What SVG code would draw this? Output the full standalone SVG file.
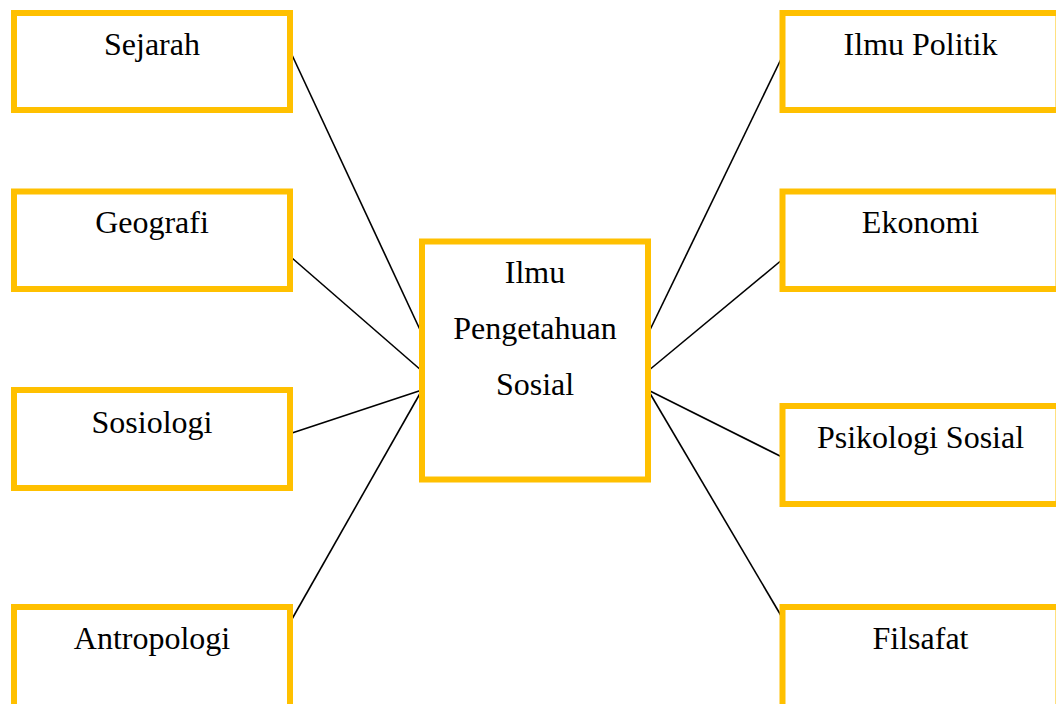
<svg xmlns="http://www.w3.org/2000/svg" width="1056" height="704" viewBox="0 0 1056 704">
<style>
.box{fill:#fff;stroke:#FFC000;stroke-width:6}
.lbl{font-family:"Liberation Serif","Times New Roman",serif;font-size:32px;fill:#000;text-anchor:middle}
.con{stroke:#000;stroke-width:1.6;fill:none}
</style>
<rect width="1056" height="704" fill="#fff"/>
<g id="connectors">
<line class="con" x1="292" y1="55" x2="422" y2="334"/>
<line class="con" x1="292" y1="258" x2="422" y2="371"/>
<line class="con" x1="292" y1="433" x2="422" y2="390"/>
<line class="con" x1="292" y1="619" x2="422" y2="390"/>
<line class="con" x1="783" y1="55" x2="648" y2="334"/>
<line class="con" x1="783" y1="259" x2="648" y2="371"/>
<line class="con" x1="782" y1="457" x2="648" y2="390"/>
<line class="con" x1="783" y1="619" x2="648" y2="390"/>
</g>
<g id="center"><rect class="box" x="422" y="241.5" width="226" height="238"/>
<text class="lbl" x="535" y="283">Ilmu</text><text class="lbl" x="535" y="339">Pengetahuan</text><text class="lbl" x="535" y="395">Sosial</text></g>
<g id="sejarah"><rect class="box" x="14" y="13" width="276" height="97"/><text class="lbl" x="152" y="55">Sejarah</text></g>
<g id="geografi"><rect class="box" x="14" y="191.5" width="276" height="97.5"/><text class="lbl" x="152" y="233">Geografi</text></g>
<g id="sosiologi"><rect class="box" x="14" y="390" width="276" height="98"/><text class="lbl" x="152" y="433">Sosiologi</text></g>
<g id="antropologi"><rect class="box" x="14" y="607" width="276" height="100"/><text class="lbl" x="152" y="649">Antropologi</text></g>
<g id="politik"><rect class="box" x="782.5" y="13" width="276" height="97"/><text class="lbl" x="920.5" y="55">Ilmu Politik</text></g>
<g id="ekonomi"><rect class="box" x="782.5" y="191.5" width="276" height="97.5"/><text class="lbl" x="920.5" y="233">Ekonomi</text></g>
<g id="psikologi"><rect class="box" x="782.5" y="406" width="276" height="98"/><text class="lbl" x="920.5" y="448">Psikologi Sosial</text></g>
<g id="filsafat"><rect class="box" x="782.5" y="607" width="276" height="100"/><text class="lbl" x="920.5" y="649">Filsafat</text></g>
</svg>
